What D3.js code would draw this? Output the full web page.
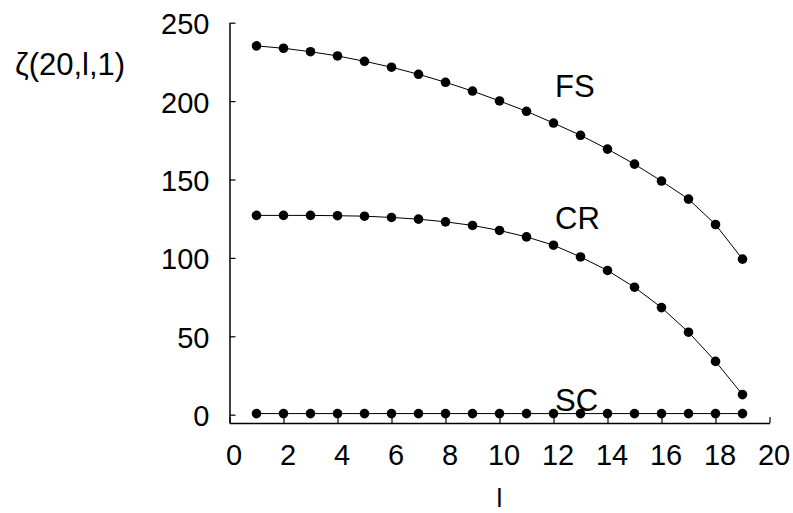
<!DOCTYPE html>
<html>
<head>
<meta charset="utf-8">
<script src="https://cdn.jsdelivr.net/npm/d3@7"></script>
<style>
  html, body { margin: 0; padding: 0; background: #fff; }
  svg { display: block; font-family: Arial, "Liberation Sans", sans-serif; }
</style>
</head>
<body>
<div id="chart"></div>
<script>
const lValues = [1, 2, 3, 4, 5, 6, 7, 8, 9, 10, 11, 12, 13, 14, 15, 16, 17, 18, 19];
const fsValues = [235.2, 233.7, 231.5, 228.8, 225.4, 221.6, 217.1, 212.0, 206.4, 200.1, 193.5, 186.0, 178.2, 169.4, 159.8, 149.0, 137.5, 121.3, 99.2];
const crValues = [127.1, 127.1, 127.1, 126.9, 126.6, 125.8, 124.7, 123.0, 120.7, 117.5, 113.4, 108.1, 100.6, 92.0, 81.3, 68.3, 52.6, 34.0, 12.8];
const scValues = [0.7, 0.7, 0.7, 0.7, 0.7, 0.7, 0.7, 0.7, 0.7, 0.7, 0.7, 0.7, 0.7, 0.7, 0.7, 0.7, 0.7, 0.7, 0.7];
const seriesNames = ["FS", "CR", "SC"];
const xTicks = [0, 2, 4, 6, 8, 10, 12, 14, 16, 18, 20];
const yTicks = [0, 50, 100, 150, 200, 250];
const yTitle = "ζ(20,l,1)";
const xTitle = "l";

const W = 793, H = 513;
const svg = d3.select("#chart").append("svg").attr("width", W).attr("height", H);

const x = d3.scaleLinear().domain([0, 20]).range([229.5, 769.5]);
const y = d3.scaleLinear().domain([-5.3, 250]).range([423, 22.7]);

const FONT = "Arial, 'Liberation Sans', sans-serif";

// X axis
const gx = svg.append("g").attr("transform", "translate(0,423)")
  .call(d3.axisBottom(x).tickValues(xTicks).tickSize(-6).tickSizeOuter(0));
gx.select(".domain").attr("stroke", "#000").attr("stroke-width", 1.5);
gx.selectAll(".tick line").attr("stroke", "#000").attr("stroke-width", 1.2);
gx.selectAll(".tick text").attr("y", 42).attr("dy", 0).attr("dx", 4)
  .attr("font-size", 29).attr("fill", "#000").style("font-family", FONT);

// Y axis
const gy = svg.append("g").attr("transform", "translate(229.5,0)")
  .call(d3.axisLeft(y).tickValues(yTicks).tickSize(-6).tickSizeOuter(0));
gy.select(".domain").attr("stroke", "#000").attr("stroke-width", 1.5);
gy.selectAll(".tick line").attr("stroke", "#000").attr("stroke-width", 1.2);
gy.selectAll(".tick text").attr("x", -20).attr("y", 11).attr("dy", 0)
  .attr("text-anchor", "end")
  .attr("font-size", 29).attr("fill", "#000").style("font-family", FONT);

// Series
const allSeries = [fsValues, crValues, scValues];
const line = d3.line().x((d, i) => x(lValues[i])).y(d => y(d));
allSeries.forEach(vals => {
  svg.append("path").datum(vals).attr("d", line)
    .attr("fill", "none").attr("stroke", "#000").attr("stroke-width", 1);
  svg.append("g").selectAll("circle").data(vals).join("circle")
    .attr("cx", (d, i) => x(lValues[i])).attr("cy", d => y(d)).attr("r", 4.8)
    .attr("fill", "#000");
});

// Series labels
const labelPos = [[555, 96.7], [555, 229.3], [555, 411]];
seriesNames.forEach((name, i) => {
  svg.append("text").attr("x", labelPos[i][0]).attr("y", labelPos[i][1])
    .attr("font-size", 31).attr("fill", "#000").text(name);
});

// Axis titles
svg.append("text").attr("x", 15).attr("y", 75).attr("font-size", 31).attr("fill", "#000").text(yTitle);
svg.append("text").attr("x", x(10)).attr("y", 507).attr("text-anchor", "middle")
  .attr("font-size", 26).attr("fill", "#000").text(xTitle);
</script>
</body>
</html>
